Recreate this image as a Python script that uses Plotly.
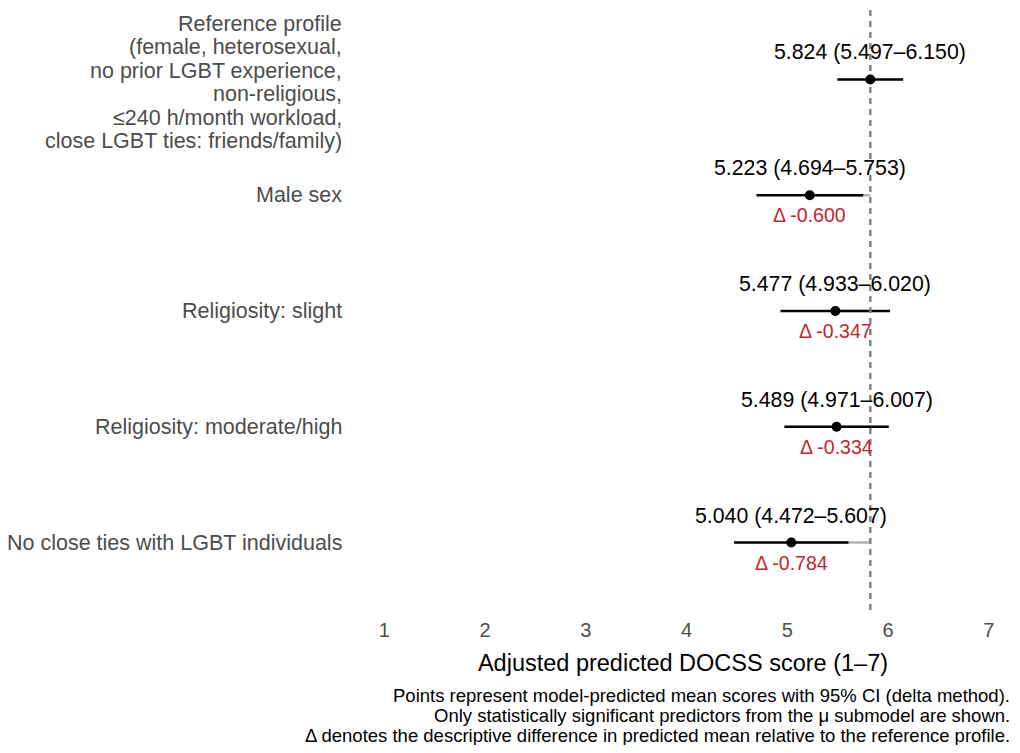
import plotly.graph_objects as go

# ---- data ----
labels = [
    ["Reference profile", "(female, heterosexual,", "no prior LGBT experience,",
     "non-religious,", "\u2264240 h/month workload,", "close LGBT ties: friends/family)"],
    ["Male sex"],
    ["Religiosity: slight"],
    ["Religiosity: moderate/high"],
    ["No close ties with LGBT individuals"],
]
estimate = [5.824, 5.223, 5.477, 5.489, 5.040]
ci_low = [5.497, 4.694, 4.933, 4.971, 4.472]
ci_high = [6.150, 5.753, 6.020, 6.007, 5.607]
delta = [None, -0.600, -0.347, -0.334, -0.784]
x_ticks = [1, 2, 3, 4, 5, 6, 7]
caption_lines = [
    "Points represent model-predicted mean scores with 95% CI (delta method).",
    "Only statistically significant predictors from the \u03bc submodel are shown.",
    "\u0394 denotes the descriptive difference in predicted mean relative to the reference profile.",
]

reference = estimate[0]
rows = list(range(1, len(estimate) + 1))

FONT = "Liberation Sans, Arial, Helvetica, sans-serif"
RED = "#C0272D"

fig = go.Figure()

# grey connectors from estimate to reference
for r, e in zip(rows, estimate):
    fig.add_trace(go.Scatter(x=[e, reference], y=[r, r], mode="lines",
                             line=dict(color="#b3b3b3", width=2.6),
                             hoverinfo="skip", showlegend=False))

# CI lines
for r, lo, hi in zip(rows, ci_low, ci_high):
    fig.add_trace(go.Scatter(x=[lo, hi], y=[r, r], mode="lines",
                             line=dict(color="black", width=2.6),
                             hoverinfo="skip", showlegend=False))

# reference dashed line
fig.add_trace(go.Scatter(x=[reference, reference], y=[0.4, 5.6], mode="lines",
                         line=dict(color="#7f7f7f", width=2.4, dash="6px,5px"),
                         hoverinfo="skip", showlegend=False))

# points
fig.add_trace(go.Scatter(x=estimate, y=rows, mode="markers",
                         marker=dict(color="black", size=10),
                         hoverinfo="skip", showlegend=False))

annotations = []
# estimate labels
for r, e, lo, hi in zip(rows, estimate, ci_low, ci_high):
    annotations.append(dict(x=e, y=r, xref="x", yref="y",
                            text=f"{e:.3f} ({lo:.3f}\u2013{hi:.3f})",
                            showarrow=False, yshift=27,
                            font=dict(family=FONT, size=21.3, color="black")))
# delta labels
for r, e, d in zip(rows, estimate, delta):
    if d is None:
        continue
    annotations.append(dict(x=e, y=r, xref="x", yref="y",
                            text=f"\u0394 {d:.3f}",
                            showarrow=False, yshift=-20,
                            font=dict(family=FONT, size=19.5, color=RED)))
# y labels
for r, lines in zip(rows, labels):
    n = len(lines)
    for i, line in enumerate(lines):
        shift = -((i - (n - 1) / 2) * 23.5) - (3 if n > 1 else 0)
        annotations.append(dict(x=0, y=r, xref="paper", yref="y",
                                text=line, showarrow=False,
                                xanchor="right", xshift=-10, yshift=shift,
                                font=dict(family=FONT, size=21.5, color="#4d4d4d")))
# caption
for i, line in enumerate(caption_lines):
    annotations.append(dict(
        x=1, y=0, xref="paper", yref="paper", xanchor="right", yanchor="middle",
        showarrow=False, xshift=0, yshift=-83 - 20 * i,
        text=line, font=dict(family=FONT, size=18.5, color="black")))

fig.update_layout(
    width=1004, height=737,
    margin=dict(l=346, r=0, t=2, b=133),
    paper_bgcolor="white", plot_bgcolor="white",
    showlegend=False,
    annotations=annotations,
    xaxis=dict(range=[0.7, 7.23], tickvals=x_ticks, ticks="", showgrid=False,
               zeroline=False, showline=False, ticklabelstandoff=4,
               tickfont=dict(family=FONT, size=20, color="#4d4d4d"),
               title=dict(text="Adjusted predicted DOCSS score (1\u20137)",
                          font=dict(family=FONT, size=23.5, color="black"), standoff=14)),
    yaxis=dict(range=[5.6, 0.4], showticklabels=False, ticks="", showgrid=False,
               zeroline=False, showline=False),
)

fig.write_html("out.html")
